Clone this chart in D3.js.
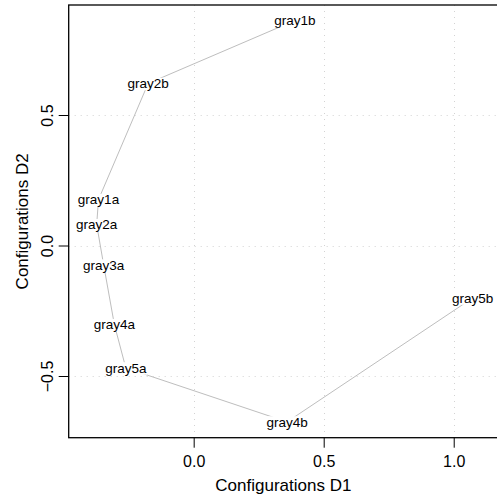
<!DOCTYPE html>
<html>
<head>
<meta charset="utf-8">
<script src="https://cdn.jsdelivr.net/npm/d3@7/dist/d3.min.js"></script>
<style>
  html, body { margin: 0; padding: 0; background: #ffffff; }
  svg { display: block; }
  text { font-family: "Liberation Sans", Arial, Helvetica, sans-serif; fill: #000; }
</style>
</head>
<body>
<svg id="chart" width="497" height="498"></svg>
<script>
// ---- data ----
const labels = ["gray1b", "gray2b", "gray1a", "gray2a", "gray3a", "gray4a", "gray5a", "gray4b", "gray5b"];
const d1 = [0.389, -0.175, -0.366, -0.373, -0.346, -0.305, -0.261, 0.359, 1.073];
const d2 = [0.862, 0.621, 0.176, 0.080, -0.075, -0.303, -0.469, -0.676, -0.201];
const xTicks = [0.0, 0.5, 1.0];
const yTicks = [-0.5, 0.0, 0.5];
const xTickLabels = ["0.0", "0.5", "1.0"];
const yTickLabels = ["\u22120.5", "0.0", "0.5"];
const xTitle = "Configurations D1";
const yTitle = "Configurations D2";

const points = labels.map((l, i) => ({ label: l, x: d1[i], y: d2[i] }));

// ---- layout ----
const pL = 68.7, pR = 498, pT = 5, pB = 437.7;
const x = d3.scaleLinear().domain([-0.4806, 1.1703]).range([pL, pR]);
const y = d3.scaleLinear().domain([-0.7364, 0.9215]).range([pB, pT]);

const svg = d3.select("#chart");

// grid
const grid = svg.append("g").attr("stroke", "#d3d3d3").attr("stroke-width", 1)
  .attr("stroke-dasharray", "1,5").attr("fill", "none");
grid.selectAll("line.v").data(xTicks).join("line")
  .attr("class", "v")
  .attr("x1", d => Math.round(x(d)) + 0.5).attr("x2", d => Math.round(x(d)) + 0.5)
  .attr("y1", pT).attr("y2", pB);
grid.selectAll("line.h").data(yTicks).join("line")
  .attr("class", "h")
  .attr("y1", d => Math.round(y(d)) + 0.5).attr("y2", d => Math.round(y(d)) + 0.5)
  .attr("x1", pL).attr("x2", pR);

// connecting lines
const line = d3.line().x(d => x(d.x)).y(d => y(d.y));
svg.append("path").datum(points)
  .attr("d", line)
  .attr("fill", "none")
  .attr("stroke", "#bebebe")
  .attr("stroke-width", 1);

// labels with white backing
const lab = svg.append("g").selectAll("g").data(points).join("g");
lab.append("text")
  .attr("x", d => x(d.x))
  .attr("y", d => y(d.y) + 4.8)
  .attr("text-anchor", "middle")
  .attr("font-size", "13.5px")
  .text(d => d.label);
lab.each(function() {
  const g = d3.select(this);
  const bb = g.select("text").node().getBBox();
  g.insert("rect", "text")
    .attr("x", bb.x).attr("y", bb.y + 1.5)
    .attr("width", bb.width).attr("height", bb.height - 2.5)
    .attr("fill", "#ffffff");
});

// axes
const xAxis = d3.axisBottom(x).tickValues(xTicks).tickSize(10).tickPadding(5)
  .tickFormat((d, i) => xTickLabels[i]);
const gx = svg.append("g").attr("transform", `translate(0,${pB})`).call(xAxis);
gx.select(".domain").remove();
gx.selectAll("line").attr("stroke", "#000");
gx.selectAll("text").attr("font-size", "16px").attr("font-family", "Liberation Sans, Arial, sans-serif")
  .attr("dy", null).attr("y", 29);

const yAxis = d3.axisLeft(y).tickValues(yTicks).tickSize(10)
  .tickFormat((d, i) => yTickLabels[i]);
const gy = svg.append("g").attr("transform", `translate(${pL},0)`).call(yAxis);
gy.select(".domain").remove();
gy.selectAll("line").attr("stroke", "#000");
gy.selectAll("text")
  .attr("font-size", "16px").attr("font-family", "Liberation Sans, Arial, sans-serif")
  .attr("x", null).attr("dy", null).attr("y", null)
  .attr("text-anchor", "middle")
  .attr("transform", "translate(-15.5,0) rotate(-90)");

// box
svg.append("rect")
  .attr("x", pL).attr("y", pT)
  .attr("width", pR - pL).attr("height", pB - pT)
  .attr("fill", "none").attr("stroke", "#000").attr("stroke-width", 1.3);

// titles
svg.append("text")
  .attr("x", (pL + pR) / 2).attr("y", 490.5)
  .attr("text-anchor", "middle").attr("font-size", "17px")
  .text(xTitle);
svg.append("text")
  .attr("transform", `translate(28,${(pT + pB) / 2}) rotate(-90)`)
  .attr("text-anchor", "middle").attr("font-size", "17px")
  .text(yTitle);
</script>
</body>
</html>
